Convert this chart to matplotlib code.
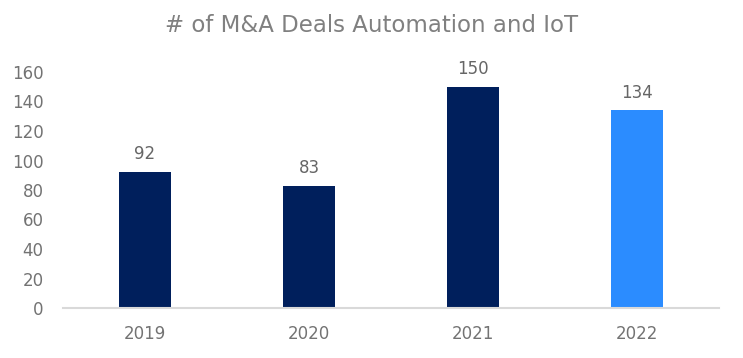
import matplotlib
matplotlib.use("Agg")
import matplotlib.pyplot as plt

years = ["2019", "2020", "2021", "2022"]
deals = [92, 83, 150, 134]
colors = ["#001F5C", "#001F5C", "#001F5C", "#2B8CFF"]

plt.rcParams['font.family'] = ['DejaVu Sans']

fig = plt.figure(figsize=(7.43, 3.58), dpi=100)
ax = fig.add_axes([63 / 743, 50 / 358, 656 / 743, 236 / 358])

x = range(len(years))
bars = ax.bar(x, deals, width=0.317, color=colors)
for i, v in enumerate(deals):
    ax.text(i, v + 6, str(v), ha='center', va='bottom', fontsize=12, color='#666666')

ax.set_xlim(-0.5, 3.5)
ax.set_ylim(0, 160)
ax.set_yticks(range(0, 161, 20))
ax.set_xticks(list(x))
ax.set_xticklabels(years)
ax.tick_params(axis='both', length=0, labelsize=12, colors='#737373')
ax.tick_params(axis='x', pad=12)
ax.tick_params(axis='y', pad=14)
for s in ['top', 'right', 'left']:
    ax.spines[s].set_visible(False)
ax.spines['bottom'].set_color('#D9D9D9')
ax.spines['bottom'].set_linewidth(1.5)

fig.text(0.5, 1 - 25 / 358, "# of M&A Deals Automation and IoT", ha='center', va='center',
         fontsize=16.5, color='#808080')

fig.savefig("out.png", dpi=100)
